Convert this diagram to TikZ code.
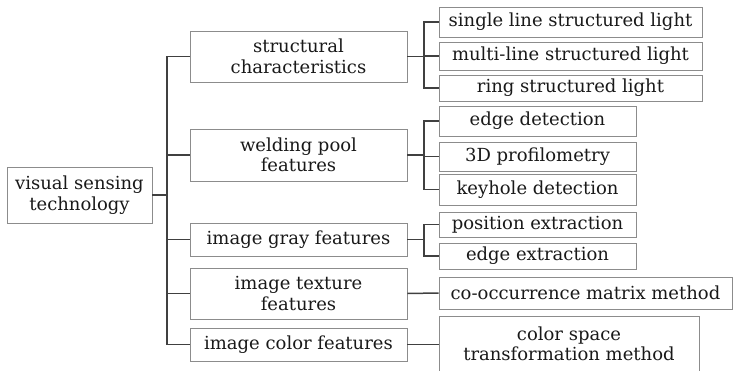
\documentclass[tikz,border=0pt]{standalone}
\usepackage{fontspec}
\setmainfont{DejaVu Serif}
\begin{document}
\begin{tikzpicture}[x=1pt,y=-1pt,
  box/.style={draw=black!45,line width=0.8pt,inner sep=0pt,align=center,
    font=\fontsize{18}{20.5}\selectfont,text=black!90},
  conn/.style={draw=black!75,line width=1.5pt}]
\clip (0,0) rectangle (733,371);
% root
\node[box,minimum width=145,minimum height=56] (root) at (79.5,195) {visual sensing\\technology};
% level 1
\node[box,minimum width=217,minimum height=51] (s1) at (298.5,56.5) {structural\\characteristics};
\node[box,minimum width=217,minimum height=52] (s2) at (298.5,155) {welding pool\\features};
\node[box,minimum width=217,minimum height=33] (s3) at (298.5,239.5) {image gray features};
\node[box,minimum width=217,minimum height=51] (s4) at (298.5,293.5) {image texture\\features};
\node[box,minimum width=217,minimum height=33] (s5) at (298.5,344.5) {image color features};
% level 2
\node[box,minimum width=263,minimum height=30] (a1) at (570.5,22) {single line structured light};
\node[box,minimum width=263,minimum height=28] (a2) at (570.5,56) {multi-line structured light};
\node[box,minimum width=263,minimum height=26] (a3) at (570.5,88) {ring structured light};
\node[box,minimum width=197,minimum height=30] (b1) at (537.5,121) {edge detection};
\node[box,minimum width=197,minimum height=29] (b2) at (537.5,156.5) {3D profilometry};
\node[box,minimum width=197,minimum height=31] (b3) at (537.5,189.5) {keyhole detection};
\node[box,minimum width=197,minimum height=25] (c1) at (537.5,224.5) {position extraction};
\node[box,minimum width=197,minimum height=26] (c2) at (537.5,256) {edge extraction};
\node[box,minimum width=293,minimum height=32] (d1) at (585.5,293) {co-occurrence matrix method};
\node[box,minimum width=260,minimum height=56] (e1) at (569,344) {color space\\transformation method};
% trunk coordinates
\coordinate (t0) at (167,0);
\coordinate (t1) at (424,0);
% connectors
\draw[conn] (root.east) -- (root.east -| t0);
\draw[conn] (s1.west) -- (s1.west -| t0) -- (s5.west -| t0) -- (s5.west);
\foreach \n in {s2,s3,s4} \draw[conn] (\n.west) -- (\n.west -| t0);
\draw[conn] (s1.east) -- (s1.east -| t1);
\draw[conn] (a1.west) -- (a1.west -| t1) -- (a3.west -| t1) -- (a3.west);
\draw[conn] (a2.west) -- (a2.west -| t1);
\draw[conn] (s2.east) -- (s2.east -| t1);
\draw[conn] (b1.west) -- (b1.west -| t1) -- (b3.west -| t1) -- (b3.west);
\draw[conn] (b2.west) -- (b2.west -| t1);
\draw[conn] (s3.east) -- (s3.east -| t1);
\draw[conn] (c1.west) -- (c1.west -| t1) -- (c2.west -| t1) -- (c2.west);
\draw[conn] (s4.east) -- (d1.west);
\draw[conn] (s5.east) -- (s5.east -| e1.west);
\end{tikzpicture}
\end{document}
